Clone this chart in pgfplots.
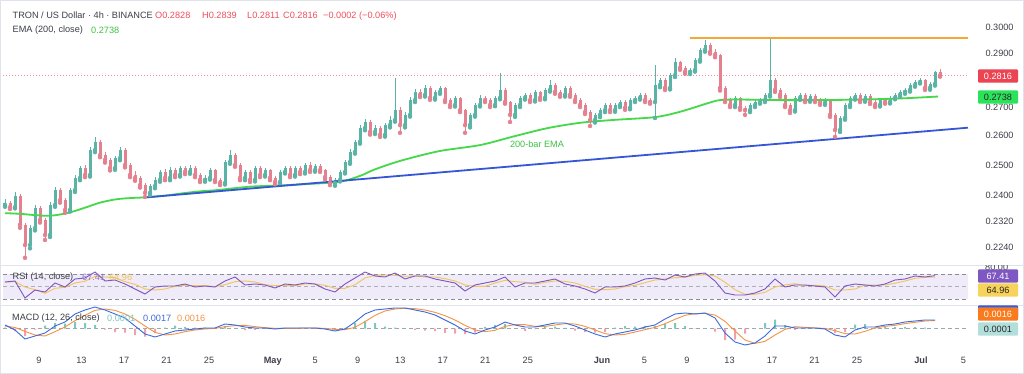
\documentclass[border=0pt]{standalone}
\usepackage{pgfplots}
\pgfplotsset{compat=1.18}
\usepackage{pgfplotstable}
\usepackage{fontspec}
\setmainfont{Liberation Sans}
\definecolor{upc}{HTML}{5AB3A5}
\definecolor{dnc}{HTML}{E5808F}
\definecolor{emac}{HTML}{45D84A}
\definecolor{emat}{HTML}{3CC244}
\definecolor{bluel}{HTML}{3556D6}
\definecolor{orgl}{HTML}{F5A735}
\definecolor{redv}{HTML}{EE4F5E}
\definecolor{txt}{HTML}{3C3F47}
\definecolor{rsic}{HTML}{7E57C2}
\definecolor{rsimac}{HTML}{F2C45A}
\definecolor{band}{HTML}{EFEBF8}
\definecolor{macdc}{HTML}{3B6AE0}
\definecolor{sigc}{HTML}{F39345}
\definecolor{hpos}{HTML}{7CC8BD}
\definecolor{hneg}{HTML}{F2A0AB}
\definecolor{sep}{HTML}{E0E3EB}
\definecolor{dashc}{HTML}{8A8D96}
\definecolor{boxred}{HTML}{EB4453}
\definecolor{boxgreen}{HTML}{2BE35A}
\definecolor{boxyel}{HTML}{F7D35C}
\definecolor{boxorg}{HTML}{FA7A1E}
\definecolor{boxteal}{HTML}{B2DFDB}
\definecolor{boxblue}{HTML}{2E5BEA}

\pgfplotstableread{
i o h l c
0 0.2371 0.2388 0.2365 0.2377
1 0.2377 0.2384 0.2358 0.2364
2 0.2364 0.2411 0.2360 0.2399
3 0.2399 0.2404 0.2300 0.2309
4 0.2309 0.2315 0.2210 0.2248
5 0.2248 0.2308 0.2238 0.2299
6 0.2299 0.2372 0.2292 0.2361
7 0.2361 0.2368 0.2316 0.2324
8 0.2324 0.2330 0.2263 0.2278
9 0.2278 0.2380 0.2272 0.2371
10 0.2371 0.2428 0.2365 0.2418
11 0.2418 0.2425 0.2378 0.2386
12 0.2386 0.2392 0.2346 0.2355
13 0.2355 0.2425 0.2350 0.2418
14 0.2418 0.2466 0.2412 0.2457
15 0.2457 0.2498 0.2450 0.2490
16 0.2490 0.2500 0.2460 0.2467
17 0.2467 0.2560 0.2462 0.2550
18 0.2550 0.2595 0.2543 0.2578
19 0.2578 0.2586 0.2526 0.2533
20 0.2533 0.2542 0.2508 0.2517
21 0.2517 0.2524 0.2482 0.2490
22 0.2490 0.2530 0.2484 0.2523
23 0.2523 0.2560 0.2516 0.2550
24 0.2550 0.2556 0.2492 0.2500
25 0.2500 0.2508 0.2460 0.2467
26 0.2467 0.2480 0.2448 0.2457
27 0.2457 0.2465 0.2426 0.2434
28 0.2434 0.2440 0.2396 0.2409
29 0.2409 0.2438 0.2402 0.2431
30 0.2431 0.2460 0.2424 0.2451
31 0.2451 0.2485 0.2445 0.2477
32 0.2477 0.2486 0.2450 0.2457
33 0.2457 0.2492 0.2450 0.2483
34 0.2483 0.2490 0.2460 0.2467
35 0.2467 0.2498 0.2462 0.2490
36 0.2490 0.2497 0.2470 0.2477
37 0.2477 0.2500 0.2471 0.2490
38 0.2490 0.2495 0.2460 0.2467
39 0.2467 0.2474 0.2444 0.2451
40 0.2451 0.2466 0.2445 0.2457
41 0.2457 0.2490 0.2452 0.2483
42 0.2483 0.2488 0.2444 0.2451
43 0.2451 0.2458 0.2434 0.2441
44 0.2441 0.2518 0.2436 0.2510
45 0.2510 0.2550 0.2504 0.2533
46 0.2533 0.2540 0.2494 0.2500
47 0.2500 0.2506 0.2450 0.2457
48 0.2457 0.2484 0.2450 0.2477
49 0.2477 0.2483 0.2444 0.2451
50 0.2451 0.2497 0.2446 0.2490
51 0.2490 0.2495 0.2460 0.2467
52 0.2467 0.2490 0.2462 0.2483
53 0.2483 0.2488 0.2450 0.2457
54 0.2457 0.2463 0.2437 0.2444
55 0.2444 0.2484 0.2440 0.2477
56 0.2477 0.2498 0.2472 0.2490
57 0.2490 0.2496 0.2460 0.2467
58 0.2467 0.2497 0.2462 0.2490
59 0.2490 0.2495 0.2470 0.2477
60 0.2477 0.2508 0.2472 0.2500
61 0.2500 0.2510 0.2477 0.2483
62 0.2483 0.2504 0.2478 0.2497
63 0.2497 0.2503 0.2477 0.2483
64 0.2483 0.2488 0.2453 0.2460
65 0.2460 0.2466 0.2434 0.2441
66 0.2441 0.2458 0.2432 0.2451
67 0.2451 0.2484 0.2446 0.2477
68 0.2477 0.2517 0.2472 0.2510
69 0.2510 0.2552 0.2504 0.2544
70 0.2544 0.2586 0.2538 0.2578
71 0.2578 0.2636 0.2572 0.2626
72 0.2626 0.2658 0.2618 0.2647
73 0.2647 0.2654 0.2603 0.2612
74 0.2612 0.2636 0.2605 0.2626
75 0.2626 0.2633 0.2595 0.2602
76 0.2602 0.2645 0.2596 0.2636
77 0.2636 0.2668 0.2628 0.2654
78 0.2654 0.2806 0.2648 0.2689
79 0.2689 0.2700 0.2609 0.2636
80 0.2636 0.2682 0.2628 0.2672
81 0.2672 0.2735 0.2666 0.2725
82 0.2725 0.2764 0.2718 0.2755
83 0.2755 0.2766 0.2736 0.2744
84 0.2744 0.2780 0.2738 0.2769
85 0.2769 0.2775 0.2726 0.2733
86 0.2733 0.2762 0.2727 0.2755
87 0.2755 0.2778 0.2748 0.2769
88 0.2769 0.2774 0.2718 0.2725
89 0.2725 0.2732 0.2700 0.2707
90 0.2707 0.2740 0.2702 0.2733
91 0.2733 0.2738 0.2682 0.2689
92 0.2689 0.2694 0.2609 0.2636
93 0.2636 0.2680 0.2628 0.2672
94 0.2672 0.2715 0.2666 0.2707
95 0.2707 0.2742 0.2702 0.2733
96 0.2733 0.2740 0.2718 0.2725
97 0.2725 0.2731 0.2700 0.2707
98 0.2707 0.2740 0.2703 0.2733
99 0.2733 0.2825 0.2728 0.2762
100 0.2762 0.2768 0.2712 0.2718
101 0.2718 0.2722 0.2647 0.2672
102 0.2672 0.2714 0.2665 0.2707
103 0.2707 0.2740 0.2700 0.2733
104 0.2733 0.2752 0.2727 0.2744
105 0.2744 0.2750 0.2718 0.2725
106 0.2725 0.2762 0.2720 0.2755
107 0.2755 0.2760 0.2726 0.2733
108 0.2733 0.2770 0.2728 0.2762
109 0.2762 0.2799 0.2756 0.2780
110 0.2780 0.2787 0.2748 0.2755
111 0.2755 0.2762 0.2737 0.2744
112 0.2744 0.2776 0.2738 0.2769
113 0.2769 0.2775 0.2737 0.2744
114 0.2744 0.2750 0.2718 0.2725
115 0.2725 0.2731 0.2700 0.2707
116 0.2707 0.2713 0.2675 0.2682
117 0.2682 0.2688 0.2633 0.2654
118 0.2654 0.2680 0.2645 0.2672
119 0.2672 0.2697 0.2664 0.2689
120 0.2689 0.2715 0.2682 0.2707
121 0.2707 0.2713 0.2682 0.2689
122 0.2689 0.2714 0.2683 0.2707
123 0.2707 0.2726 0.2700 0.2718
124 0.2718 0.2724 0.2690 0.2697
125 0.2697 0.2732 0.2692 0.2725
126 0.2725 0.2740 0.2718 0.2733
127 0.2733 0.2752 0.2727 0.2744
128 0.2744 0.2750 0.2718 0.2725
129 0.2725 0.2731 0.2712 0.2718
130 0.2718 0.2855 0.2661 0.2780
131 0.2780 0.2808 0.2772 0.2799
132 0.2799 0.2806 0.2762 0.2769
133 0.2769 0.2826 0.2764 0.2817
134 0.2817 0.2882 0.2810 0.2866
135 0.2866 0.2872 0.2837 0.2844
136 0.2844 0.2852 0.2822 0.2829
137 0.2829 0.2845 0.2821 0.2836
138 0.2836 0.2882 0.2830 0.2874
139 0.2874 0.2922 0.2868 0.2913
140 0.2913 0.2951 0.2906 0.2932
141 0.2932 0.2940 0.2898 0.2905
142 0.2905 0.2915 0.2885 0.2893
143 0.2893 0.2898 0.2760 0.2769
144 0.2769 0.2776 0.2718 0.2725
145 0.2725 0.2733 0.2700 0.2707
146 0.2707 0.2740 0.2700 0.2733
147 0.2733 0.2738 0.2690 0.2697
148 0.2697 0.2704 0.2672 0.2689
149 0.2689 0.2714 0.2682 0.2707
150 0.2707 0.2725 0.2700 0.2718
151 0.2718 0.2732 0.2712 0.2725
152 0.2725 0.2750 0.2718 0.2744
153 0.2744 0.2959 0.2738 0.2799
154 0.2799 0.2806 0.2755 0.2762
155 0.2762 0.2770 0.2736 0.2744
156 0.2744 0.2750 0.2700 0.2707
157 0.2707 0.2713 0.2679 0.2689
158 0.2689 0.2740 0.2684 0.2733
159 0.2733 0.2752 0.2726 0.2744
160 0.2744 0.2750 0.2718 0.2725
161 0.2725 0.2748 0.2719 0.2740
162 0.2740 0.2746 0.2718 0.2725
163 0.2725 0.2732 0.2708 0.2715
164 0.2715 0.2733 0.2708 0.2725
165 0.2725 0.2730 0.2665 0.2672
166 0.2672 0.2678 0.2595 0.2619
167 0.2619 0.2668 0.2612 0.2661
168 0.2661 0.2714 0.2655 0.2707
169 0.2707 0.2740 0.2700 0.2733
170 0.2733 0.2752 0.2727 0.2744
171 0.2744 0.2750 0.2718 0.2725
172 0.2725 0.2748 0.2719 0.2740
173 0.2740 0.2746 0.2711 0.2718
174 0.2718 0.2725 0.2700 0.2707
175 0.2707 0.2732 0.2702 0.2725
176 0.2725 0.2731 0.2712 0.2718
177 0.2718 0.2740 0.2713 0.2733
178 0.2733 0.2751 0.2728 0.2744
179 0.2744 0.2762 0.2738 0.2755
180 0.2755 0.2770 0.2748 0.2762
181 0.2762 0.2788 0.2756 0.2780
182 0.2780 0.2799 0.2774 0.2791
183 0.2791 0.2807 0.2786 0.2799
184 0.2799 0.2804 0.2762 0.2769
185 0.2769 0.2792 0.2763 0.2784
186 0.2784 0.2834 0.2778 0.2828
187 0.2828 0.2839 0.2811 0.2816
}\candles

\pgfplotstableread{
x p
0 0.2345
3 0.2343
6 0.2339
9 0.2337
12.4 0.2345
15.6 0.2360
19 0.2378
22.4 0.2389
25.6 0.2393
28.4 0.2395
32.4 0.2401
35.6 0.2408
39 0.2414
42.4 0.2418
49 0.2429
55 0.2433
61 0.2438
67 0.2445
71 0.2464
73.6 0.2483
77 0.2503
80.4 0.2520
87 0.2547
95 0.2567
101.6 0.2596
108.4 0.2625
115 0.2644
121.6 0.2654
130 0.2664
135 0.2683
140.4 0.2713
143 0.2725
147 0.2727
155 0.2725
163 0.2725
171 0.2727
179 0.2731
186.6 0.2738
}\ematab

\pgfplotstableread{
x p
28.4 0.2395
192.6 0.2627
}\bluetab
\pgfplotstableread{
x p
137 0.2958
192.6 0.2958
}\orangetab
\pgfplotstableread{
x p
-0.4 0.2816
192.6 0.2816
}\lasttab

\pgfplotstableread{
x rsi rsima macd sig hist
0 57.2 57.0 0.0007 0.0005 0.0002
2 58.8 58.0 -0.0003 0.0002 -0.0005
4 31.6 49.2 -0.0021 -0.00057 -0.00153
6 44.4 44.9 -0.0015 -0.0013 -0.0002
8 41.2 39.1 -0.0009 -0.0015 0.0006
10 55.6 47.1 0.0005 -0.00063 0.00113
12 49.2 48.7 0.0013 0.0003 0.0010
14 62.0 55.6 0.0029 0.00157 0.00133
16 63.6 58.3 0.0037 0.00263 0.00107
18 73.2 66.3 0.0043 0.00363 0.00067
20 58.8 65.2 0.0037 0.0039 -0.0002
22 60.4 64.1 0.0029 0.00363 -0.00073
24 54.0 57.7 0.0021 0.0029 -0.0008
26 46.0 53.5 0.0005 0.00183 -0.00133
28 38.0 46.0 -0.0011 0.0005 -0.0016
30 49.2 44.4 -0.0017 -0.00077 -0.00093
32 50.8 46.0 -0.0011 -0.0013 0.0002
34 50.8 50.3 -0.0005 -0.0011 0.0006
36 54.0 51.9 -0.0003 -0.00063 0.00033
38 49.2 51.3 -0.0001 -0.0003 0.0002
40 50.8 51.3 0.0001 -0.0001 0.0002
42 49.2 49.7 0.0001 0.00003 0.00007
44 58.8 52.9 0.0009 0.00037 0.00053
46 65.2 57.7 0.0007 0.00057 0.00013
48 52.4 58.8 0.0003 0.00063 -0.00033
50 54.0 57.2 0.0001 0.00037 -0.00027
52 52.4 52.9 0.0001 0.00017 -0.00007
54 47.6 51.3 -0.0001 0.00003 -0.00013
56 54.0 51.3 0.0001 0.00003 0.00007
58 52.4 51.3 0.0001 0.00003 0.00007
60 55.6 54.0 0.0001 0.0001 0.0
62 54.0 54.0 0.0001 0.0001 0.0
64 46.0 51.9 -0.0001 0.00003 -0.00013
66 41.2 47.1 -0.0005 -0.00017 -0.00033
68 54.0 47.1 -0.0001 -0.00023 0.00013
70 63.6 52.9 0.0013 0.00023 0.00107
72 73.2 63.6 0.0029 0.00137 0.00153
74 66.8 67.9 0.0037 0.00263 0.00107
76 65.2 68.4 0.0039 0.0035 0.0004
78 71.6 67.9 0.0041 0.0039 0.0002
80 62.0 66.3 0.0041 0.00403 0.00007
82 66.8 66.8 0.0037 0.00397 -0.00027
84 66.8 65.2 0.0033 0.0037 -0.0004
86 62.0 65.2 0.0027 0.00323 -0.00053
88 58.8 62.5 0.0017 0.00257 -0.00087
90 55.6 58.8 0.0007 0.0017 -0.0010
92 42.8 52.4 -0.0005 0.00063 -0.00113
94 52.4 50.3 -0.0011 -0.0003 -0.0008
96 55.6 50.3 -0.0003 -0.00063 0.00033
98 58.8 55.6 0.0003 -0.00037 0.00067
100 65.2 59.9 0.0013 0.00043 0.00087
102 49.2 57.7 0.0007 0.00077 -0.00007
104 55.6 56.7 0.0003 0.00077 -0.00047
106 55.6 53.5 0.0003 0.00043 -0.00013
108 58.8 56.7 0.0007 0.00043 0.00027
110 62.0 58.8 0.0011 0.0007 0.0004
112 54.0 58.3 0.0011 0.00097 0.00013
114 50.8 55.6 0.0005 0.0009 -0.0004
116 46.0 50.3 -0.0003 0.00043 -0.00073
118 39.6 45.5 -0.0011 -0.0003 -0.0008
120 49.2 44.9 -0.0017 -0.00103 -0.00067
122 49.2 46.0 -0.0011 -0.0013 0.0002
124 50.8 49.7 -0.0007 -0.00117 0.00047
126 55.6 51.9 -0.0003 -0.0007 0.0004
128 62.0 56.1 0.0003 -0.00023 0.00053
130 63.6 60.4 0.0007 0.00023 0.00047
132 60.4 62.0 0.0019 0.00097 0.00093
134 68.4 64.1 0.0029 0.00183 0.00107
136 65.2 64.7 0.0031 0.00263 0.00047
138 70.0 67.9 0.0029 0.00297 -0.00007
140 71.6 68.9 0.0031 0.00303 0.00007
142 58.8 66.8 0.0021 0.0027 -0.0006
144 39.6 56.7 -0.0009 0.00143 -0.00233
146 36.4 44.9 -0.0027 -0.0005 -0.0022
148 36.4 37.5 -0.0033 -0.0023 -0.0010
150 39.6 37.5 -0.0029 -0.00297 0.00007
152 46.0 40.7 -0.0015 -0.00257 0.00107
154 62.0 49.2 0.0005 -0.0013 0.0018
156 49.2 52.4 0.0005 -0.00017 0.00067
158 52.4 54.5 0.0001 0.00037 -0.00027
160 52.4 51.3 0.0001 0.00023 -0.00013
162 50.8 51.9 0.0001 0.0001 0.0
164 49.2 50.8 -0.0001 0.00003 -0.00013
166 33.2 44.4 -0.0013 -0.00043 -0.00087
168 50.8 44.4 -0.0017 -0.00103 -0.00067
170 54.0 46.0 -0.0003 -0.0011 0.0008
172 52.4 52.4 0.0003 -0.00057 0.00087
174 50.8 52.4 0.0003 0.0001 0.0002
176 54.0 52.4 0.0007 0.00043 0.00027
178 60.4 55.1 0.0009 0.00063 0.00027
180 62.0 58.8 0.0013 0.00097 0.00033
182 66.8 63.1 0.0015 0.00123 0.00027
184 65.2 64.7 0.0017 0.0015 0.0002
186 67.41 64.96 0.0017 0.0016 0.0001
}\ind

\pgfplotsset{
 upfilter/.style={restrict expr to domain={\thisrow{c}-\thisrow{o}}{0:1}},
 dnfilter/.style={restrict expr to domain={\thisrow{c}-\thisrow{o}}{-1:-0.00001}},
 panel/.style={scale only axis, width=965bp, xmin=-0.4, xmax=192.6,
   axis line style={draw=none}, tick style={draw=none},
   tick label style={font=\fontsize{9.2}{11}\selectfont, text=txt},
   yticklabel pos=right, yticklabel style={anchor=west, xshift=14bp}},
}

\begin{document}
\begin{tikzpicture}[font=\fontsize{9.2}{11}\selectfont]
\useasboundingbox (0bp,0bp) rectangle (1024bp,374bp);
\fill[white] (0bp,0bp) rectangle (1024bp,374bp);

% ---------- main price panel (price on a logarithmic scale) ----------
\begin{axis}[panel, at={(3bp,109bp)}, anchor=south west, height=257bp,
  ymin=-1.51914, ymax=-1.17782, xtick=\empty,
  ytick={-1.496109,-1.461018,-1.427116,-1.386294,-1.347074,-1.309333,-1.237874,-1.203973},
  yticklabels={0.2240,0.2320,0.2400,0.2500,0.2600,0.2700,0.2900,0.3000}]
\addplot[redv!65, dash pattern=on 1bp off 2bp, line width=0.7bp] table[x=x, y expr={ln(\thisrow{p})}] {\lasttab};
% wicks
\addplot[only marks, mark=none, upc, upfilter, error bars/.cd, y dir=plus, y explicit, error mark=none,
  error bar style={line width=0.9bp, upc}]
  table[x=i, y expr={ln(\thisrow{l})}, y error expr={ln(\thisrow{h})-ln(\thisrow{l})}] {\candles};
\addplot[only marks, mark=none, dnc, dnfilter, error bars/.cd, y dir=plus, y explicit, error mark=none,
  error bar style={line width=0.9bp, dnc}]
  table[x=i, y expr={ln(\thisrow{l})}, y error expr={ln(\thisrow{h})-ln(\thisrow{l})}] {\candles};
% bodies
\addplot[only marks, mark=none, upc, upfilter, error bars/.cd, y dir=plus, y explicit, error mark=none,
  error bar style={line width=3bp, upc}]
  table[x=i, y expr={ln(min(\thisrow{o},\thisrow{c}))}, y error expr={abs(ln(\thisrow{c})-ln(\thisrow{o}))}] {\candles};
\addplot[only marks, mark=none, dnc, dnfilter, error bars/.cd, y dir=plus, y explicit, error mark=none,
  error bar style={line width=3bp, dnc}]
  table[x=i, y expr={ln(min(\thisrow{o},\thisrow{c}))}, y error expr={abs(ln(\thisrow{c})-ln(\thisrow{o}))}] {\candles};
% EMA
\addplot[emac, line width=1.8bp, smooth] table[x=x, y expr={ln(\thisrow{p})}] {\ematab};
% trend lines
\addplot[bluel, line width=1.8bp] table[x=x, y expr={ln(\thisrow{p})}] {\bluetab};
\addplot[orgl, line width=1.8bp] table[x=x, y expr={ln(\thisrow{p})}] {\orangetab};
\node[text=emat] at (axis cs:106.4,-1.35829) {200-bar EMA};
\end{axis}

% ---------- RSI panel ----------
\begin{axis}[panel, at={(3bp,69bp)}, anchor=south west, height=40bp, ymin=20.4, ymax=84.4, xtick=\empty,
  ytick=\empty]
\addplot[fill=band, draw=none] coordinates {(-0.4,30) (192.6,30) (192.6,70) (-0.4,70) (-0.4,30)};
\addplot[dashc, dash pattern=on 4bp off 3bp, line width=0.7bp] coordinates {(-0.4,70) (192.6,70)};
\addplot[dashc!70, dash pattern=on 4bp off 3bp, line width=0.7bp] coordinates {(-0.4,50) (192.6,50)};
\addplot[dashc, dash pattern=on 4bp off 3bp, line width=0.7bp] coordinates {(-0.4,30) (192.6,30)};
\addplot[rsimac, line width=0.9bp] table[x=x, y=rsima] {\ind};
\addplot[rsic, line width=0.9bp] table[x=x, y=rsi] {\ind};
\end{axis}

% ---------- MACD panel ----------
\begin{axis}[panel, at={(3bp,22bp)}, anchor=south west, height=47bp, ymin=-0.0047, ymax=0.0047,
  ytick=\empty, scaled y ticks=false,
  xtick={6.8,15.3,23.8,32.3,40.8,53.55,62.05,70.55,79.05,87.55,96.05,104.55,119.4,127.9,136.4,144.9,153.4,161.9,170.4,183.2,191.7},
  xticklabels={9,13,17,21,25,\textbf{May},5,9,13,17,21,25,\textbf{Jun},5,9,13,17,21,25,\textbf{Jul},5},
  xticklabel style={yshift=-1.5bp}]
\addplot[dashc!80, dash pattern=on 4bp off 3bp, line width=0.7bp] coordinates {(-0.4,0) (192.6,0)};
\addplot[ybar, bar width=2bp, bar shift=0pt, fill=hpos, draw=none, restrict y to domain=0:1] table[x=x, y=hist] {\ind};
\addplot[ybar, bar width=2bp, bar shift=0pt, fill=hneg, draw=none, restrict y to domain=-1:0] table[x=x, y=hist] {\ind};
\addplot[sigc, line width=0.9bp] table[x=x, y=sig] {\ind};
\addplot[macdc, line width=0.9bp] table[x=x, y=macd] {\ind};
\end{axis}

\begin{scope}[x=1bp,y=1bp]
% ---------- separators and border ----------
\draw[sep] (0,109) -- (1024,109);
\draw[sep] (0,69) -- (1024,69);
\draw[sep] (0.5,0.5) rectangle (1023.5,373.5);

% ---------- legends ----------
\node[anchor=west, inner sep=0, text=txt] at (12.5,358.3) {TRON / US Dollar · 4h · BINANCE};
\node[anchor=west, inner sep=0, text=redv] at (155,358.3) {O0.2828};
\node[anchor=west, inner sep=0, text=redv] at (202,358.3) {H0.2839};
\node[anchor=west, inner sep=0, text=redv] at (247,358.3) {L0.2811};
\node[anchor=west, inner sep=0, text=redv] at (283,358.3) {C0.2816};
\node[anchor=west, inner sep=0, text=redv] at (323,358.3) {−0.0002 (−0.06\%)};
\node[anchor=west, inner sep=0, text=txt] at (12.5,344) {EMA (200, close)};
\node[anchor=west, inner sep=0, text=emat] at (91,344) {0.2738};

\node[anchor=west, inner sep=0, text=txt] at (12.5,97) {RSI (14, close)};
\node[anchor=west, inner sep=0, text=rsic!80] at (82,97) {67.41};
\node[anchor=west, inner sep=0, text=rsimac] at (109,97) {64.96};

\node[anchor=west, inner sep=0, text=txt] at (12,56) {MACD (12, 26, close)};
\node[anchor=west, inner sep=0, text=hpos] at (107,56) {0.0001};
\node[anchor=west, inner sep=0, text=macdc] at (143,56) {0.0017};
\node[anchor=west, inner sep=0, text=sigc] at (177,56) {0.0016};

% ---------- price scale labels ----------
\begin{scope}
\clip (970,104) rectangle (1024,108.5);
\node[anchor=west, inner sep=0, text=txt] at (985,106.3) {80.00};
\end{scope}
\tikzset{pbox/.style={minimum width=40bp, minimum height=13.4bp, inner sep=0, rounded corners=1bp}}
\node[pbox, fill=boxred, text=white] at (998,298) {0.2816};
\node[pbox, fill=boxgreen, text=black!85] at (998,277) {0.2738};
\node[pbox, fill=rsic, text=white] at (998,98) {67.41};
\node[pbox, fill=boxyel, text=black!85] at (998,84) {64.96};
\node[pbox, fill=boxblue, text=white] at (998,62) {0.0017};
\node[pbox, fill=boxorg, text=white] at (998,60) {0.0016};
\node[pbox, fill=boxteal, text=black!85] at (998,45) {0.0001};
\end{scope}
\end{tikzpicture}
\end{document}
